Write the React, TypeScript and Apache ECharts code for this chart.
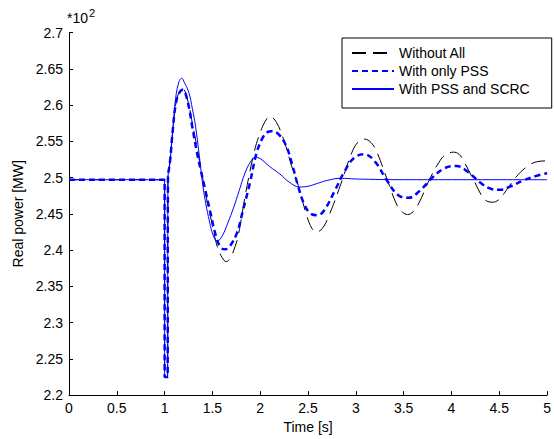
import React, { useEffect, useRef } from "react";
import * as echarts from "echarts";

const seriesNames = ["Without All", "With only PSS", "With PSS and SCRC"];
const xTicks = { min: 0, max: 5, interval: 0.5 };
const yTicks = { min: 2.2, max: 2.7, interval: 0.05 };

const withoutAll: [number, number][] = [
  [0, 2.497], [0.99, 2.497], [1.0, 2.497], [1.0, 2.225], [1.03, 2.225], [1.035, 2.5],
  [1.055, 2.522], [1.085, 2.565], [1.115, 2.6], [1.15, 2.617], [1.19, 2.622], [1.24, 2.607],
  [1.29, 2.575], [1.34, 2.54], [1.39, 2.505], [1.44, 2.47], [1.49, 2.44], [1.55, 2.405],
  [1.6, 2.39], [1.645, 2.384], [1.69, 2.39], [1.737, 2.405], [1.77, 2.42], [1.85, 2.48],
  [1.94, 2.537], [2.0, 2.562], [2.05, 2.577], [2.1, 2.584], [2.17, 2.576], [2.256, 2.548],
  [2.33, 2.515], [2.41, 2.484], [2.48, 2.45], [2.54, 2.43], [2.59, 2.425], [2.65, 2.43],
  [2.72, 2.448], [2.84, 2.49], [2.96, 2.535], [3.03, 2.55], [3.09, 2.553], [3.16, 2.548],
  [3.22, 2.535], [3.32, 2.5], [3.43, 2.462], [3.49, 2.452], [3.54, 2.449], [3.6, 2.453],
  [3.66, 2.465], [3.78, 2.5], [3.9, 2.527], [3.96, 2.533], [4.02, 2.535], [4.08, 2.532],
  [4.13, 2.522], [4.23, 2.497], [4.33, 2.472], [4.38, 2.467], [4.43, 2.466], [4.49, 2.469],
  [4.55, 2.478], [4.67, 2.5], [4.8, 2.516], [4.9, 2.522], [5.0, 2.523],
];

const withOnlyPSS: [number, number][] = [
  [0, 2.497], [0.99, 2.497], [1.0, 2.497], [1.0, 2.225], [1.03, 2.225], [1.035, 2.5],
  [1.055, 2.52], [1.085, 2.565], [1.115, 2.6], [1.15, 2.616], [1.19, 2.621], [1.24, 2.605],
  [1.288, 2.571], [1.33, 2.54], [1.375, 2.512], [1.43, 2.48], [1.478, 2.452], [1.54, 2.418],
  [1.59, 2.403], [1.634, 2.401], [1.68, 2.405], [1.755, 2.423], [1.82, 2.455], [1.893, 2.493],
  [1.96, 2.533], [2.03, 2.556], [2.08, 2.563], [2.117, 2.564], [2.19, 2.56], [2.27, 2.544],
  [2.34, 2.515], [2.39, 2.491], [2.46, 2.463], [2.53, 2.45], [2.6, 2.448], [2.67, 2.455],
  [2.78, 2.482], [2.88, 2.508], [2.98, 2.527], [3.09, 2.532], [3.2, 2.522], [3.32, 2.497],
  [3.44, 2.476], [3.55, 2.472], [3.67, 2.482], [3.8, 2.5], [3.93, 2.513], [4.05, 2.516],
  [4.17, 2.508], [4.3, 2.493], [4.4, 2.485], [4.5, 2.483], [4.62, 2.488], [4.75, 2.496],
  [4.88, 2.502], [5.0, 2.506],
];

const withPSSandSCRC: [number, number][] = [
  [0, 2.497], [0.99, 2.497], [1.0, 2.497], [1.0, 2.225], [1.03, 2.225], [1.035, 2.5],
  [1.054, 2.518], [1.085, 2.564], [1.116, 2.61], [1.15, 2.632], [1.178, 2.637], [1.21, 2.63],
  [1.254, 2.617], [1.29, 2.595], [1.323, 2.571], [1.358, 2.535], [1.41, 2.48], [1.478, 2.434],
  [1.515, 2.418], [1.547, 2.412], [1.6, 2.419], [1.66, 2.437], [1.72, 2.458], [1.78, 2.482],
  [1.84, 2.506], [1.9, 2.522], [1.95, 2.528], [2.0, 2.526], [2.1, 2.515], [2.204, 2.505],
  [2.3, 2.494], [2.41, 2.487], [2.5, 2.488], [2.6, 2.492], [2.7, 2.496], [2.84, 2.499],
  [3.0, 2.498], [3.5, 2.497], [4.0, 2.497], [5.0, 2.497],
];

const FONT = "Liberation Sans";
const FS = 14;

export default function App() {
  const ref = useRef<HTMLDivElement>(null);
  useEffect(() => {
    if (!ref.current) return;
    const chart = echarts.init(ref.current, undefined, { renderer: "svg" });
    const axisCommon = {
      axisLine: { show: true, lineStyle: { color: "#000", width: 1 } },
      axisTick: { show: true, inside: true, length: 4, lineStyle: { color: "#000" } },
      splitLine: { show: false },
      nameTextStyle: { color: "#000", fontFamily: FONT, fontSize: FS },
    };
    chart.setOption({
      animation: false,
      backgroundColor: "#fff",
      grid: { left: 69, right: 2.5, top: 32.5, bottom: 41, containLabel: false },
      legend: {
        data: seriesNames,
        orient: "vertical",
        left: 342,
        top: 38,
        padding: [8, 22, 12, 9],
        itemGap: 4,
        itemWidth: 42,
        itemHeight: 14,
        borderColor: "#000",
        borderWidth: 1,
        backgroundColor: "#fff",
        itemStyle: { color: "rgba(0,0,0,0)", borderColor: "rgba(0,0,0,0)", borderWidth: 0, opacity: 0 },
        textStyle: { color: "#000", fontFamily: FONT, fontSize: FS },
      },
      xAxis: {
        type: "value",
        ...xTicks,
        ...axisCommon,
        axisLabel: {
          color: "#000",
          fontFamily: FONT,
          fontSize: FS,
          margin: 6,
          formatter: (v: number) => String(+v.toFixed(1)),
        },
        name: "Time [s]",
        nameLocation: "middle",
        nameGap: 22,
      },
      yAxis: {
        type: "value",
        ...yTicks,
        ...axisCommon,
        axisLabel: {
          color: "#000",
          fontFamily: FONT,
          fontSize: FS,
          margin: 6,
          formatter: (v: number) => String(+v.toFixed(2)),
        },
        name: "Real power [MW]",
        nameLocation: "middle",
        nameGap: 44,
        nameRotate: 90,
      },
      graphic: [
        {
          type: "text",
          left: 67,
          top: 11,
          style: { text: "*10", fill: "#000", font: `14px "${FONT}"` },
        },
        {
          type: "text",
          left: 89,
          top: 7,
          style: { text: "2", fill: "#000", font: `11px "${FONT}"` },
        },
      ],
      series: [
        {
          name: seriesNames[0],
          type: "line",
          data: withoutAll,
          smooth: 0.4,
          symbol: "none",
          lineStyle: { color: "#000", width: 1, type: [14, 7] },
          itemStyle: { color: "#000" },
        },
        {
          name: seriesNames[1],
          type: "line",
          data: withOnlyPSS,
          smooth: 0.4,
          symbol: "none",
          lineStyle: { color: "#0000ff", width: 2.5, type: [6, 4] },
          itemStyle: { color: "#0000ff" },
        },
        {
          name: seriesNames[2],
          type: "line",
          data: withPSSandSCRC,
          smooth: 0.4,
          symbol: "none",
          lineStyle: { color: "#0000ff", width: 1, type: "solid" },
          itemStyle: { color: "#0000ff" },
        },
      ],
    });
    return () => chart.dispose();
  }, []);
  return (
    <div
      ref={ref}
      style={{ position: "fixed", left: 0, top: 0, width: 554, height: 439, background: "#fff" }}
    />
  );
}
